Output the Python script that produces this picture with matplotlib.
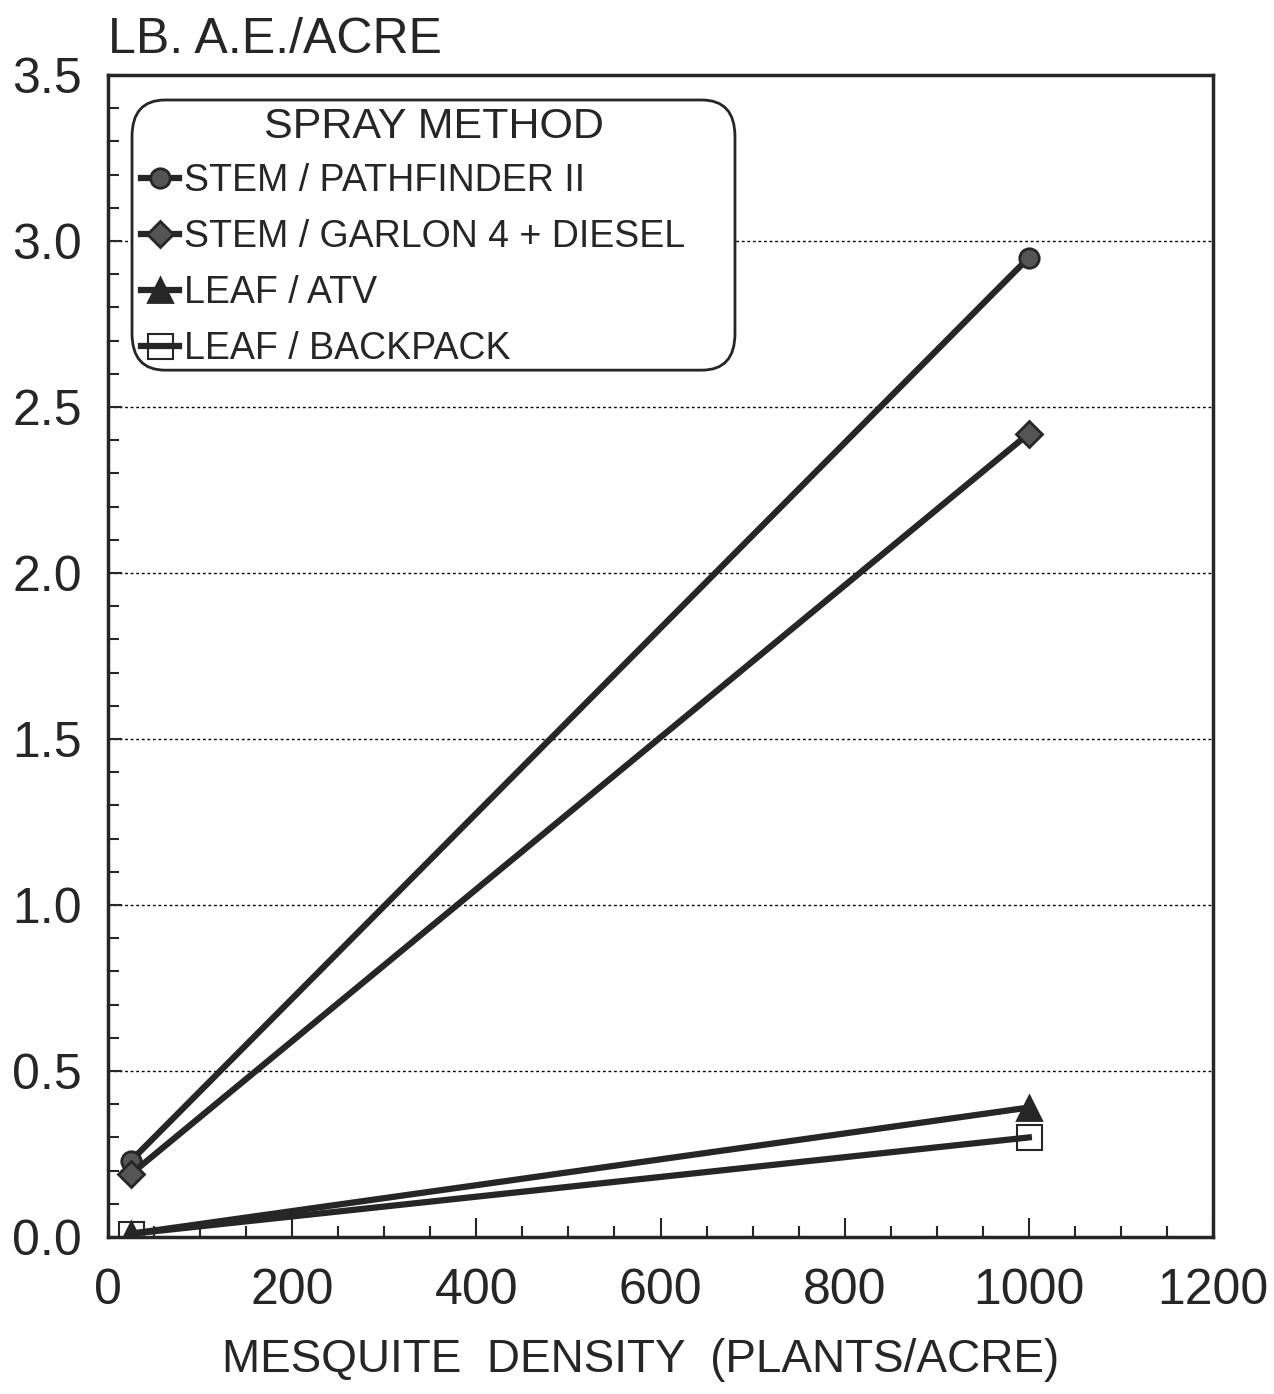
import numpy as np
import matplotlib.pyplot as plt
from matplotlib.ticker import MultipleLocator
from matplotlib.patches import FancyBboxPatch

plt.rcParams['font.family'] = ['Liberation Sans', 'DejaVu Sans']

# densidad de mezquite (plantas/acre)
densidad = [25, 1000]

# libras equivalente acido por acre, por metodo
pathfinder = [0.23, 2.95]
garlon = [0.19, 2.42]
atv = [0.01, 0.39]
backpack = [0.01, 0.30]

etiquetas = ['STEM / PATHFINDER II', 'STEM / GARLON 4 + DIESEL',
             'LEAF / ATV', 'LEAF / BACKPACK']

fig = plt.figure(figsize=(12.74, 13.94), dpi=100)
ax = fig.add_axes([0.0848, 0.1126, 0.8673, 0.8336])

tinta = '#262626'
ax.plot(densidad, pathfinder, color=tinta, lw=4.5, marker='o', ms=14,
        mfc='#555555', mec=tinta, mew=2, label=etiquetas[0], zorder=4)
ax.plot(densidad, garlon, color=tinta, lw=4.5, marker='D', ms=13,
        mfc='#555555', mec=tinta, mew=2, label=etiquetas[1], zorder=4)
ax.plot(densidad, atv, color=tinta, lw=4.5, marker='^', ms=17,
        mfc=tinta, mec=tinta, mew=2, label=etiquetas[2], zorder=4)
ax.plot(densidad, backpack, color=tinta, lw=4.5, marker='s', ms=18,
        mfc='none', mec=tinta, mew=1.5, label=etiquetas[3], zorder=5)

ax.set_xlim(0, 1200)
ax.set_ylim(0, 3.5)
ax.xaxis.set_major_locator(MultipleLocator(200))
ax.xaxis.set_minor_locator(MultipleLocator(50))
ax.yaxis.set_minor_locator(MultipleLocator(0.1))
ax.set_yticks(np.arange(0, 3.51, 0.5))
ax.set_yticklabels([f'{v:.1f}' for v in np.arange(0, 3.51, 0.5)])

ax.tick_params(which='major', direction='in', length=14, width=1.5,
               labelsize=36, colors=tinta)
ax.tick_params(which='minor', direction='in', length=8, width=1.5, colors=tinta)
ax.tick_params(axis='y', which='major', length=10, pad=19)
ax.tick_params(axis='x', which='major', pad=22)

for lado in ax.spines.values():
    lado.set_linewidth(2.5)
    lado.set_color(tinta)

for v in np.arange(0.5, 3.01, 0.5):
    ax.axhline(v, color='black', lw=1, ls=(0, (2, 2)), zorder=1)

fig.text(0.503, 0.0244, 'MESQUITE  DENSITY  (PLANTS/ACRE)', fontsize=33,
         color=tinta, ha='center', va='center')
fig.text(0.085, 0.962, 'LB. A.E./ACRE', fontsize=36, color=tinta,
         ha='left', va='baseline')

# caja redondeada de la leyenda
caja = FancyBboxPatch((0.0217, 0.746), 0.5457, 0.2325,
                      boxstyle='round,pad=0,rounding_size=0.03',
                      transform=ax.transAxes, facecolor='white',
                      edgecolor=tinta, lw=2, zorder=9, mutation_aspect=1.05)
ax.add_patch(caja)
ax.text(0.2945, 0.955, 'SPRAY METHOD', fontsize=31, color=tinta,
        ha='center', va='center', transform=ax.transAxes, zorder=11)

leg = ax.legend(loc='upper left', bbox_to_anchor=(0.03, 0.924),
                fontsize=27, handlelength=1.0, handletextpad=0.15,
                borderpad=0, labelspacing=0.53, frameon=False,
                borderaxespad=0)
for t in leg.get_texts():
    t.set_color(tinta)
leg.set_zorder(10)

fig.savefig('out.png', dpi=100)
